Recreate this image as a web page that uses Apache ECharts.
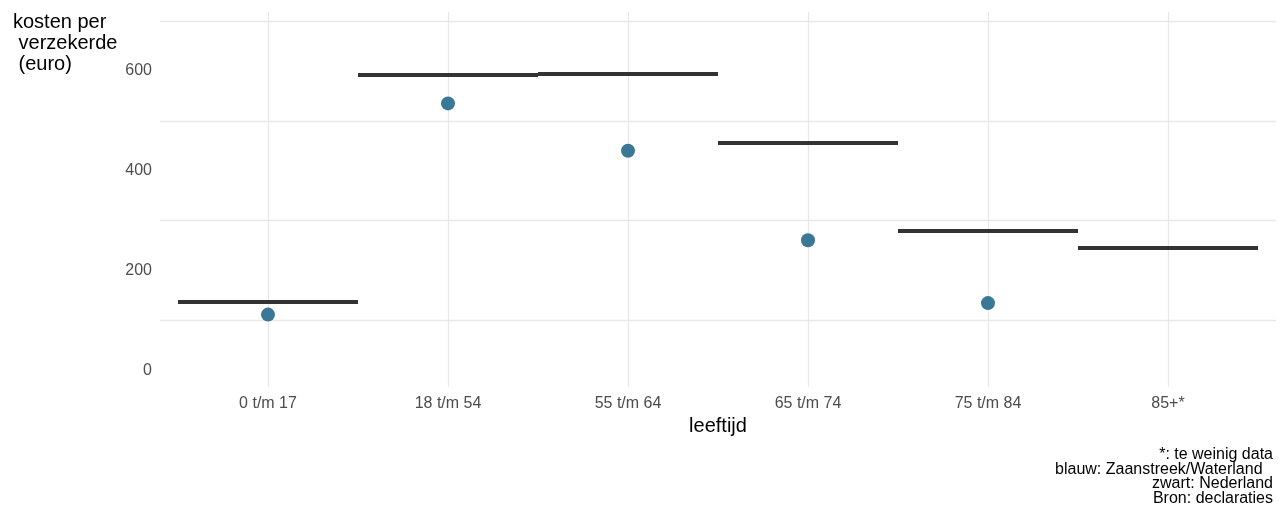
<!DOCTYPE html>
<html>
<head>
<meta charset="utf-8">
<script src="https://cdn.jsdelivr.net/npm/echarts@6/dist/echarts.min.js"></script>
<style>
html,body{margin:0;padding:0;background:#fff;}
#chart{width:1279px;height:509px;}
</style>
</head>
<body>
<div id="chart"></div>
<script>
const categories = ['0 t/m 17', '18 t/m 54', '55 t/m 64', '65 t/m 74', '75 t/m 84', '85+*'];
const nederland = [137, 593, 595, 456, 280, 246];
const zaanstreek = [112, 535, 440, 261, 135, null];
const yTicks = [0, 200, 400, 600];
const yMinorGrid = [100, 300, 500, 700];
const yTitleLines = ['kosten per', ' verzekerde', ' (euro)'];
const xTitle = 'leeftijd';
const captionLines = ['*: te weinig data', 'blauw: Zaanstreek/Waterland ', 'zwart: Nederland', 'Bron: declaraties'];

const Y_MIN = -33, Y_MAX = 718, X_MIN = 0.4, X_MAX = 6.6;
const font = '"Liberation Sans", Arial, sans-serif';

const xPos = categories.map((c, i) => i + 1);

const gridLines = [];
yMinorGrid.forEach(v => gridLines.push({ coords: [[X_MIN, v], [X_MAX, v]] }));
xPos.forEach(x => gridLines.push({ coords: [[x, Y_MIN], [x, Y_MAX]] }));

const segments = nederland.map((v, i) => ({ coords: [[xPos[i] - 0.5, v], [xPos[i] + 0.5, v]] }));
const points = zaanstreek.map((v, i) => v == null ? null : [xPos[i], v]).filter(d => d);

const chart = echarts.init(document.getElementById('chart'), null, { renderer: 'canvas' });
const captionRight = [1273, 1267, 1273, 1273];
const captionY = [455, 469.5, 484, 498.5];

chart.setOption({
  animation: false,
  backgroundColor: '#ffffff',
  grid: { left: 160, right: 3, top: 12, bottom: 122, containLabel: false },
  xAxis: {
    type: 'value', min: X_MIN, max: X_MAX,
    axisLine: { show: false }, axisTick: { show: false }, splitLine: { show: false },
    axisLabel: {
      customValues: xPos,
      formatter: v => categories[Math.round(v) - 1] || '',
      color: '#4d4d4d', fontSize: 16, fontFamily: font, margin: 9
    },
    name: xTitle, nameLocation: 'middle', nameGap: 28,
    nameTextStyle: { color: '#000', fontSize: 20, fontFamily: font }
  },
  yAxis: {
    type: 'value', min: Y_MIN, max: Y_MAX,
    axisLine: { show: false }, axisTick: { show: false }, splitLine: { show: false },
    axisLabel: {
      customValues: yTicks,
      color: '#4d4d4d', fontSize: 16, fontFamily: font, margin: 8, padding: [4, 0, 0, 0]
    }
  },
  graphic: [
    {
      type: 'text', left: 13, top: 12,
      style: { text: yTitleLines.join('\n'), font: '20px ' + font, fill: '#000', lineHeight: 21 }
    }
  ].concat(captionLines.map((t, i) => ({
    type: 'text', x: captionRight[i], y: captionY[i],
    style: { text: t, font: '16px ' + font, fill: '#000', align: 'right', verticalAlign: 'middle' }
  }))),
  series: [
    {
      type: 'lines', coordinateSystem: 'cartesian2d', z: 1, silent: true,
      lineStyle: { color: '#e8e8e8', width: 1.3, opacity: 1 },
      data: gridLines
    },
    {
      type: 'lines', coordinateSystem: 'cartesian2d', z: 2, silent: true,
      lineStyle: { color: '#333333', width: 4, opacity: 1, cap: 'butt' },
      data: segments
    },
    {
      type: 'scatter', z: 3, symbol: 'circle', symbolSize: 14,
      itemStyle: { color: '#3b7797', opacity: 1 },
      data: points
    }
  ]
});
</script>
</body>
</html>
